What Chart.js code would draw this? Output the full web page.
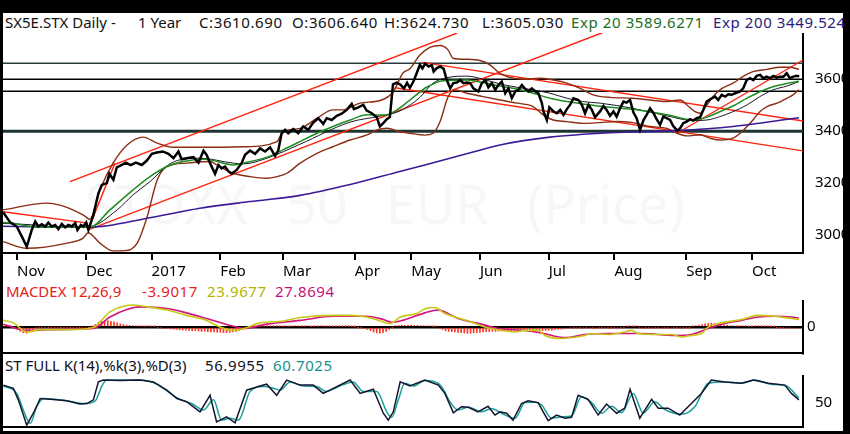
<!DOCTYPE html>
<html><head><meta charset="utf-8">
<script src="https://cdn.jsdelivr.net/npm/chart.js@4.4.1/dist/chart.umd.min.js"></script>
<style>
html,body{margin:0;padding:0;background:#000;width:850px;height:434px;overflow:hidden;}
#frame{position:absolute;left:3px;top:13px;width:840px;height:418px;background:#fff;}
.t{position:absolute;font-family:"Noto Sans",sans-serif;font-size:15px;line-height:15px;white-space:pre;color:#111;}
.n{letter-spacing:0.6px;}
#wm{position:absolute;left:85px;top:176px;font-family:"Noto Sans",sans-serif;font-size:54px;line-height:54px;color:#f7f7f7;white-space:pre;word-spacing:24px;}
canvas{position:absolute;}
</style></head>
<body>
<div id="frame"></div>
<div id="wm">STOXX 50 EUR (Price)</div>
<div class="t" style="left:5px;top:15px">SX5E.STX Daily -</div>
<div class="t" style="left:138px;top:15px">1 Year</div>
<div class="t n" style="left:199px;top:15px">C:3610.690</div>
<div class="t n" style="left:292px;top:15px">O:3606.640</div>
<div class="t n" style="left:384px;top:15px">H:3624.730</div>
<div class="t n" style="left:482px;top:15px">L:3605.030</div>
<div class="t n" style="left:571px;top:15px;color:#1b6e1b">Exp 20 3589.6271</div>
<div class="t n" style="left:713px;top:15px;color:#2d1b7a">Exp 200 3449.524</div>
<div class="t" style="left:6px;top:284px;color:#e8201a">MACDEX 12,26,9</div>
<div class="t n" style="left:142px;top:284px;color:#e8201a">-3.9017</div>
<div class="t n" style="left:207px;top:284px;color:#b4b400">23.9677</div>
<div class="t n" style="left:275px;top:284px;color:#c8107a">27.8694</div>
<div class="t" style="left:5px;top:358px;color:#101020">ST FULL K(14),%k(3),%D(3)</div>
<div class="t n" style="left:205px;top:358px;color:#101020">56.9955</div>
<div class="t n" style="left:273px;top:358px;color:#159090">60.7025</div>
<canvas id="cPrice" width="842" height="250" style="left:3px;top:33px;width:842px;height:250px"></canvas>
<canvas id="cMacd" width="842" height="56" style="left:3px;top:300px;width:842px;height:56px"></canvas>
<canvas id="cStoch" width="842" height="55" style="left:3px;top:375px;width:842px;height:55px"></canvas>
<script>
// ---------- DATA ----------
const monthLabels = ["Nov","Dec","2017","Feb","Mar","Apr","May","Jun","Jul","Aug","Sep","Oct"];
const monthDays = [5,27,48,70,90,113,131,153,175,196,219,240];
const priceTicks = [3000,3200,3400,3600];
const macdTicks = [0];
const stochTicks = [50];

const priceDays = [0.6,2.8,4.9,6.5,8.1,9.7,10.8,11.8,12.9,14.0,15.0,16.1,17.2,18.2,19.3,20.4,21.4,22.5,23.6,24.3,25.4,26.2,27.1,27.8,29.4,31.0,32.1,33.7,34.5,35.8,36.9,38.5,39.8,41.3,43.0,44.9,46.5,48.1,49.7,51.6,53.4,55.0,56.6,57.6,59.2,61.4,63.0,64.6,65.6,66.7,68.3,69.4,70.4,71.5,72.6,73.6,75.2,76.8,77.9,79.5,81.1,82.7,84.3,85.9,87.5,88.5,89.6,90.7,91.7,93.3,94.9,96.5,98.1,99.7,101.3,102.9,104.0,105.6,107.2,108.8,110.4,112.0,112.7,114.1,115.7,116.8,118.4,120.0,121.0,122.1,123.2,124.2,125.2,126.4,127.5,128.7,129.7,130.6,131.7,132.8,133.8,134.6,135.5,136.6,137.6,138.2,139.2,140.3,141.4,142.4,143.5,144.5,145.6,146.7,147.7,148.8,149.9,150.9,152.5,153.6,154.7,155.7,156.8,157.9,158.9,160.0,161.1,162.1,163.2,164.3,165.3,166.4,167.5,168.5,169.6,170.7,171.7,172.8,173.3,174.4,175.2,176.5,177.6,178.7,179.7,180.8,181.8,182.9,184.5,185.6,186.6,187.7,188.8,189.8,191.4,192.5,193.5,194.6,195.7,196.7,197.8,198.9,199.9,201.0,202.1,203.1,204.2,205.3,206.3,207.4,208.5,209.5,210.6,211.6,212.7,213.8,214.8,216.1,217.0,218.0,219.1,220.2,221.2,222.3,223.4,224.4,225.5,226.6,228.2,229.2,230.3,231.4,232.4,233.5,234.6,236.2,237.2,238.3,239.4,240.4,241.5,242.6,243.6,244.7,245.7,246.8,247.9,248.9,250.0,251.1,252.1,253.2,254.3,255.1];
const priceVals = [3087,3049,3033,2995,2956,3020,3052,3033,3042,3033,3048,3033,3039,3023,3043,3030,3039,3033,3046,3020,3039,3033,3048,3020,3078,3161,3193,3200,3236,3213,3261,3270,3279,3269,3279,3270,3287,3313,3318,3322,3313,3296,3322,3292,3296,3300,3279,3325,3309,3277,3236,3270,3257,3264,3245,3236,3251,3277,3309,3325,3313,3334,3322,3338,3305,3325,3392,3405,3392,3408,3392,3418,3405,3433,3450,3428,3450,3443,3459,3467,3482,3505,3485,3492,3501,3479,3469,3454,3418,3431,3446,3454,3580,3587,3580,3565,3586,3567,3590,3624,3656,3642,3660,3649,3655,3630,3643,3649,3640,3597,3565,3585,3587,3597,3585,3587,3585,3565,3553,3585,3597,3569,3585,3559,3578,3591,3546,3565,3527,3553,3559,3578,3562,3553,3565,3553,3546,3508,3476,3443,3492,3476,3469,3482,3463,3485,3501,3527,3520,3501,3469,3501,3482,3454,3476,3497,3482,3459,3476,3456,3488,3514,3510,3520,3472,3450,3405,3443,3463,3488,3469,3446,3424,3456,3450,3443,3420,3402,3411,3431,3437,3446,3441,3450,3454,3482,3514,3523,3533,3520,3540,3533,3542,3540,3546,3553,3565,3597,3604,3597,3613,3617,3604,3610,3604,3613,3606,3610,3610,3623,3604,3610,3613,3611];

const ema20Days = [0.5,3.7,8.2,15.6,28.3,34.7,42.1,47.5,52.9,58.1,65.1,74.1,77.3,84.9,90.0,95.5,100.9,106.0,111.5,116.9,122.6,126.5,130.6,136.1,141.8,148.9,154.0,159.4,164.9,170.0,175.4,180.8,185.9,191.4,201.9,212.8,221.1,225.6,229.7,233.9,238.4,242.5,246.7,251.2,255.0];
const ema20Vals = [3048,3046,3035,3030,3030,3097,3174,3225,3264,3283,3292,3270,3277,3300,3328,3360,3392,3418,3443,3463,3462,3482,3520,3570,3595,3597,3587,3574,3562,3546,3527,3514,3505,3496,3484,3463,3443,3454,3475,3497,3527,3552,3571,3584,3592];

const sma20Days = [0.5,9.2,18.8,28.3,37.0,42.1,47.5,52.9,56.2,63.5,74.1,77.3,84.9,95.5,111.5,121.1,127.4,133.8,138.0,142.5,148.9,154.0,159.4,164.9,170.0,175.4,180.8,185.9,191.4,201.9,212.8,221.1,225.6,229.7,233.9,238.4,242.5,246.7,251.2,255.0];
const sma20Vals = [3045,3040,3030,3033,3097,3155,3206,3266,3287,3296,3277,3274,3296,3350,3435,3458,3478,3530,3585,3606,3612,3600,3582,3569,3559,3546,3527,3514,3508,3488,3459,3441,3443,3456,3475,3501,3533,3559,3574,3591];

const bbUpDays = [0.5,14.6,26.1,28.3,31.5,35.7,40.2,45.3,49.8,54.9,66.7,77.3,88.1,90.0,95.5,100.9,106.0,109.2,114.7,121.1,125.2,128.4,130.6,133.8,137.0,140.2,142.8,144.4,148.9,153.0,156.2,159.4,161.7,166.8,172.2,176.4,180.8,185.0,189.2,194.6,201.9,212.8,217.0,219.2,221.8,223.4,225.6,227.5,229.7,233.9,237.1,240.3,244.8,248.9,252.1,255.0];
const bbUpVals = [3097,3123,3078,3061,3174,3277,3347,3377,3354,3338,3338,3340,3360,3398,3411,3450,3482,3482,3508,3518,3550,3624,3640,3693,3723,3730,3713,3681,3677,3672,3655,3623,3610,3600,3604,3597,3585,3565,3540,3530,3527,3514,3520,3501,3475,3469,3501,3533,3559,3585,3610,3629,3638,3646,3646,3638];

const bbLoDays = [0.5,8.2,21.0,26.1,27.7,31.5,35.7,39.5,43.4,46.6,49.8,52.9,59.3,66.7,68.9,74.1,79.5,84.9,88.1,91.3,95.5,100.9,106.0,111.5,116.9,120.1,123.3,127.4,130.6,135.4,138.0,140.2,142.8,145.0,148.9,154.0,159.4,164.9,170.0,173.2,176.4,180.8,185.9,191.4,196.8,201.9,207.4,212.8,216.0,219.2,223.4,226.6,229.7,233.9,236.2,238.4,240.3,242.5,244.8,248.0,251.2,253.1,255.0];
const bbLoVals = [2975,2949,2969,2988,3009,2969,2939,2940,2969,3071,3212,3264,3277,3283,3270,3238,3225,3219,3225,3238,3277,3315,3340,3366,3386,3405,3411,3398,3392,3385,3392,3435,3532,3559,3546,3533,3520,3508,3495,3463,3443,3437,3430,3433,3437,3433,3418,3411,3392,3382,3386,3373,3366,3373,3392,3418,3443,3475,3495,3508,3527,3540,3559];

const ema200Days = [0.5,28.3,47.5,63.5,79.5,95.5,111.5,127.4,135.4,151.4,159.4,175.4,194.6,216.0,233.9,255.0];
const ema200Vals = [3034,3030,3067,3103,3129,3153,3195,3245,3270,3322,3347,3377,3394,3402,3418,3452];

// trend lines: [startDay, startValue, endDay, endValue]
const trendLines = [[21.9,3206,145.7,3778],[0.5,3090,27.7,3046],[27.7,3020,36.3,3277],[27.7,3020,192.3,3780],[134.5,3665,256.3,3439],[125.8,3567,256.3,3324],[216.0,3392,256.3,3674]];
const hLevels = [3662,3600,3554,3400];

const macdDays = [0.6,3.8,8.1,12.4,20.9,29.4,31.5,34.7,39.0,42.2,45.4,52.9,59.2,65.6,69.9,74.2,77.4,82.7,90.1,95.5,106.1,111.5,116.8,122.1,124.3,127.5,132.8,135.4,138.6,141.8,145.0,150.3,154.6,158.8,164.2,167.4,171.6,173.8,179.1,182.3,186.6,188.7,194.0,199.3,201.5,203.6,210.0,214.3,217.5,220.6,223.8,226.0,229.2,236.6,242.0,247.3,252.6,255.0];
const macdVals = [21,13,-16,-9,-9,-2,16,48,66,70,66,54,37,21,0,-11,-5,13,19,30,37,37,32,16,11,32,43,58,62,43,32,16,0,-9,-16,-11,-11,-27,-37,-34,-27,-21,-24,-16,-11,-21,-24,-24,-32,-27,-21,0,11,24,37,34,27,24];
const sigDays = [0.6,8.1,15.6,29.4,34.7,40.1,44.3,52.9,59.2,65.6,74.2,77.4,84.8,95.5,106.1,116.8,122.1,124.8,127.5,135.4,139.7,146.0,153.5,158.8,167.4,172.7,180.2,186.6,194.0,204.7,215.3,220.6,226.0,231.3,236.6,242.0,247.3,252.6,255.0];
const sigVals = [9,-11,-9,-5,32,56,64,59,45,27,2,-5,9,21,34,34,24,15,19,45,54,27,9,-5,-11,-19,-34,-24,-21,-21,-27,-24,-5,11,21,32,34,32,28];
const histVals = [2,2,2,1,-2,-8,-14,-18,-20,-16,
-8,-3,-2,-2,-2,-1,-2,-2,-2,-1,
-2,-2,-1,-2,-2,-1,-2,-2,-1,2,
8,14,18,20,20,18,16,13,10,8,
6,5,4,3,3,3,2,3,2,2,
-2,-3,-4,-5,-6,-7,-8,-9,-10,-10,
-11,-12,-12,-13,-14,-14,-15,-16,-16,-17,
-17,-18,-18,-17,-16,-14,-11,-8,-5,-3,
2,2,3,2,2,3,2,2,3,2,
2,3,2,2,3,2,2,2,3,2,
2,2,3,2,2,2,2,2,2,2,
2,2,1,1,-1,-2,-4,-8,-12,-16,
-19,-20,-18,-14,-8,-2,4,5,6,5,
5,6,5,5,4,4,3,3,2,2,
-4,-8,-12,-14,-15,-16,-17,-18,-19,-20,
-20,-19,-18,-17,-16,-15,-15,-14,-14,-13,
-13,-12,-12,-12,-11,-11,-10,-10,-10,-10,
-10,-11,-12,-12,-11,-10,-10,-9,-8,-7,
-6,-4,-3,-2,-3,-2,-3,-2,-3,-2,
-3,-2,-2,-3,-2,-2,-2,-3,-2,-2,
2,3,2,2,-2,-3,-2,-2,-3,-2,
-2,-3,-2,-2,-3,-2,-2,-3,-2,-2,
-2,2,4,6,8,10,11,12,11,10,
8,6,5,4,4,3,3,3,3,2,
2,3,3,2,2,2,1,1,-1,-2,
-2,-3,-3,-4,-4,-4];

const stochKDays = [0.6,3.8,5.4,8.1,10.2,12.4,16.6,20.9,25.1,27.3,29.4,31.0,32.6,37.9,44.3,48.6,52.9,56.1,59.2,63.5,66.7,68.8,72.0,74.7,78.4,82.7,84.8,88.0,91.2,95.5,99.7,102.9,106.1,111.5,114.7,118.9,122.1,123.7,125.3,127.5,130.6,135.4,139.7,141.8,144.5,147.1,149.3,152.4,155.6,157.8,159.4,161.5,163.6,166.3,168.4,171.6,174.8,177.5,180.2,182.3,184.4,187.6,190.8,193.5,196.7,199.3,201.0,204.1,207.9,210.0,213.2,216.9,220.6,223.8,227.0,231.3,236.6,240.4,245.2,250.5,252.6,255.0];
const stochKVals = [89,82,57,2,28,60,58,55,48,49,57,96,100,99,100,96,78,60,53,31,67,9,20,7,78,87,91,67,100,89,89,71,82,100,71,80,28,13,31,96,87,100,89,71,29,42,41,31,43,24,31,28,13,49,55,51,12,24,17,19,67,58,24,48,28,39,80,17,58,39,39,24,49,71,100,96,93,100,93,89,71,57];
const stochDDays = [0.6,4.9,7.0,9.2,11.3,13.4,20.9,26.2,30.0,32.1,33.7,44.3,49.7,54.0,57.1,60.8,64.6,67.8,70.4,73.1,75.8,79.5,83.8,87.0,89.1,92.3,96.5,100.8,104.0,107.2,112.5,115.7,120.0,123.2,124.8,126.9,129.0,131.7,135.4,140.7,143.4,146.0,149.3,153.5,156.7,159.9,164.2,167.4,170.6,172.7,175.9,179.1,182.3,185.5,188.7,191.9,195.1,198.3,202.0,205.2,208.9,212.1,217.5,221.7,226.0,231.3,236.6,240.9,246.2,251.0,255.0];
const stochDVals = [87,71,35,6,42,60,55,49,55,87,100,100,91,71,58,49,35,57,13,17,13,75,86,82,78,96,87,86,75,84,96,75,75,31,19,57,93,87,99,86,53,35,41,31,38,28,17,51,52,46,17,20,22,64,51,28,43,29,71,28,53,36,26,42,93,96,93,100,91,87,61];

// ---------- CHART ----------
Chart.defaults.font.family = '"Noto Sans", sans-serif';
Chart.defaults.font.size = 15;
Chart.defaults.color = '#000';
const X_MIN = 0.5, X_MAX = 256.3;
const pts = (xs, ys) => xs.map((x, i) => ({x, y: ys[i]}));
const line = (data, color, width, smooth) => ({type:'line', data, borderColor: color, borderWidth: width, pointRadius: 0, fill: false, tension: 0, cubicInterpolationMode: smooth ? 'monotone' : 'default'});

function baseOptions(yMin, yMax, yTicks, xAxis, yGrid) {
  return {
    responsive: false, animation: false, events: [],
    layout: {padding: 0},
    plugins: {legend: {display: false}, tooltip: {enabled: false}, title: {display: false}},
    scales: {
      x: Object.assign({
        type: 'linear', min: X_MIN, max: X_MAX, offset: false,
        border: {display: true, color: '#000', width: 2},
      }, xAxis),
      y: {
        type: 'linear', position: 'right', min: yMin, max: yMax,
        border: {display: true, color: '#000', width: 2},
        grid: yGrid || {display: false},
        ticks: {padding: 4, callback: v => String(v), autoSkip: false},
        afterBuildTicks: s => { s.ticks = yTicks.map(v => ({value: v})); },
        afterFit: s => { s.width = 42; s.paddingTop = 0; s.paddingBottom = 0; }
      }
    }
  };
}

// price panel
const priceSets = [];
priceSets.push(line(pts(priceDays, priceVals), '#000', 2.5, false));
priceSets.push(line(pts(ema20Days, ema20Vals), '#1e8c1e', 1.5, true));
priceSets.push(line(pts(sma20Days, sma20Vals), '#1a1a2a', 1, true));
priceSets.push(line(pts(ema200Days, ema200Vals), '#3c1a96', 1.6, true));
priceSets.push(line(pts(bbUpDays, bbUpVals), '#8b2d12', 1.4, true));
priceSets.push(line(pts(bbLoDays, bbLoVals), '#8b2d12', 1.4, true));
trendLines.forEach(t => priceSets.push(line([{x:t[0], y:t[1]}, {x:t[2], y:t[3]}], '#ff2410', 1.4, false)));
const hColors = ['#243c3c', '#000', '#000', '#1c3434'];
const hWidths = [1.5, 1.5, 1.5, 3];
hLevels.forEach((lv, i) => priceSets.push(line([{x:X_MIN, y:lv}, {x:X_MAX, y:lv}], hColors[i], hWidths[i], false)));

new Chart(document.getElementById('cPrice'), {
  type: 'line',
  data: {datasets: priceSets},
  options: baseOptions(2931, 3778, priceTicks, {
    grid: {display: true, drawOnChartArea: false, drawTicks: true, tickLength: 7, color: '#000', lineWidth: 2},
    ticks: {align: 'start', padding: 3, autoSkip: false, maxRotation: 0, callback: (v, i) => monthLabels[i]},
    afterBuildTicks: s => { s.ticks = monthDays.map(v => ({value: v})); },
    afterFit: s => { s.height = 30; s.paddingLeft = 0; s.paddingRight = 0; }
  })
});

// MACD panel
const hideX = {
  grid: {display: false},
  ticks: {display: false},
  afterFit: s => { s.height = 3; s.paddingLeft = 0; s.paddingRight = 0; }
};
new Chart(document.getElementById('cMacd'), {
  type: 'line',
  data: {datasets: [
    line(pts(macdDays, macdVals), '#c8c814', 1.6, true),
    line(pts(sigDays, sigVals), '#d4147c', 1.6, true),
    {type: 'bar', data: histVals.map((v, i) => ({x: i, y: v})), backgroundColor: '#ff3322', barThickness: 1, borderWidth: 0}
  ]},
  options: baseOptions(-83, 86, macdTicks, hideX, {display: true, drawOnChartArea: true, drawTicks: false, color: '#000', lineWidth: 2.5})
});

// Stochastic panel
new Chart(document.getElementById('cStoch'), {
  type: 'line',
  data: {datasets: [
    line(pts(stochKDays, stochKVals), '#141430', 1.5, false),
    line(pts(stochDDays, stochDVals), '#18a098', 1.5, true)
  ]},
  options: baseOptions(-2, 111, stochTicks, hideX)
});
</script>
</body></html>
